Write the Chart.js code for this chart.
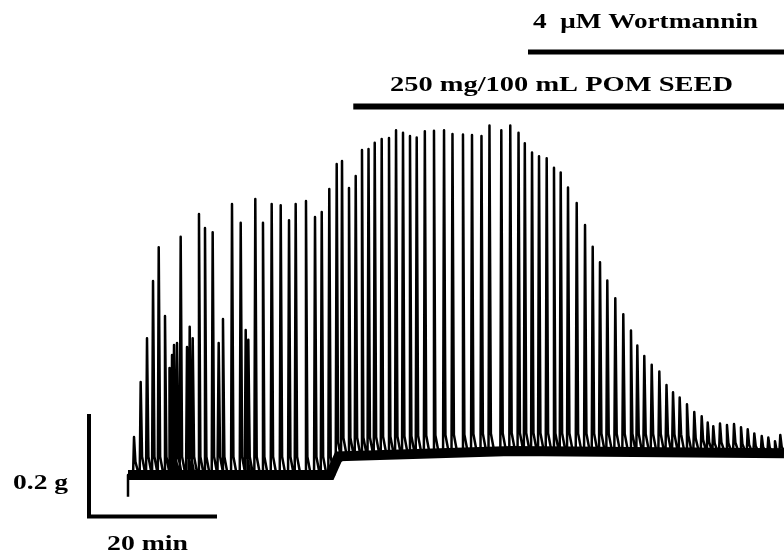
<!DOCTYPE html>
<html>
<head>
<meta charset="utf-8">
<script src="https://cdn.jsdelivr.net/npm/chart.js@4"></script>
<style>
  body { margin: 0; background: #fff; }
  canvas { display: block; }
</style>
</head>
<body>
<canvas id="trace" width="784" height="558"></canvas>
<script>
// contraction peaks: time (min from start of trace) and tension (g, relative to first baseline)
const peakMin = [0.94, 1.98, 2.97, 3.91, 4.80, 5.78, 6.56, 6.88, 7.19, 7.66,
  8.23, 9.22, 9.64, 10.11, 11.09, 12.03, 13.23, 14.17, 14.84, 16.25,
  17.61, 18.39, 18.80, 19.89, 21.09, 22.45, 23.86, 25.16, 26.20, 27.81,
  29.22, 30.27, 31.45, 32.61, 33.44, 34.53, 35.58, 36.56, 37.58, 38.55,
  39.64, 40.78, 41.88, 42.97, 44.06, 45.11, 46.38, 47.81, 49.38, 50.70,
  52.34, 53.75, 55.23, 56.48, 58.33, 59.73, 61.02, 62.00, 63.13, 64.22,
  65.42, 66.56, 67.61, 68.75, 70.11, 71.41, 72.61, 73.75, 74.89, 76.14,
  77.39, 78.59, 79.58, 80.67, 81.83, 83.02, 84.14, 85.16, 86.20, 87.34,
  88.48, 89.64, 90.58, 91.45, 92.50, 93.59, 94.69, 95.78, 96.83, 97.86,
  99.02, 100.05, 101.09, 101.92];
const peakG = [0.073, 0.179, 0.263, 0.373, 0.438, 0.306, 0.206, 0.231, 0.250, 0.254,
  0.458, 0.246, 0.285, 0.263, 0.502, 0.475, 0.467, 0.254, 0.300, 0.521,
  0.485, 0.279, 0.260, 0.531, 0.485, 0.521, 0.519, 0.490, 0.521, 0.527,
  0.496, 0.506, 0.550, 0.598, 0.604, 0.552, 0.575, 0.625, 0.627, 0.639,
  0.646, 0.648, 0.663, 0.658, 0.652, 0.649, 0.661, 0.662, 0.663, 0.656,
  0.655, 0.654, 0.652, 0.672, 0.663, 0.672, 0.658, 0.638, 0.620, 0.613,
  0.609, 0.591, 0.582, 0.553, 0.523, 0.481, 0.439, 0.409, 0.374, 0.340,
  0.309, 0.278, 0.249, 0.229, 0.212, 0.199, 0.173, 0.159, 0.149, 0.136,
  0.121, 0.113, 0.101, 0.094, 0.099, 0.096, 0.098, 0.092, 0.088, 0.080,
  0.075, 0.072, 0.065, 0.077];

// resting tension between contractions
const baseMin = [0, 31.6, 32.9, 60, 102.5];
const baseG = [0, 0, 0.036, 0.046, 0.042];
const onsetDipG = -0.042;

// treatments (start time in min)
const treatLabels = ["250 mg/100 mL POM SEED", "4  \u03bcM Wortmannin"];
const treatStart = [35.2, 62.5];

const scaleBarG = 0.2;
const scaleBarMin = 20;

function baseAt(t) {
  for (let i = 1; i < baseMin.length; i++) {
    if (t <= baseMin[i]) {
      const f = (t - baseMin[i - 1]) / (baseMin[i] - baseMin[i - 1]);
      return baseG[i - 1] + f * (baseG[i] - baseG[i - 1]);
    }
  }
  return baseG[baseG.length - 1];
}

// each contraction: fast rise, fast fall, then a short relaxation tail
const traceData = [{ x: 0, y: onsetDipG }, { x: 0, y: baseAt(0) }];
peakMin.forEach(function (t, i) {
  const b = baseAt(t);
  const tail = Math.min(0.035, 0.35 * (peakG[i] - b));
  traceData.push(
    { x: t - 0.15, y: b },
    { x: t, y: peakG[i] },
    { x: t + 0.22, y: b + tail },
    { x: t + 0.75, y: b }
  );
});
traceData.push({ x: 102.5, y: baseAt(102.5) });

const baseData = baseMin.map(function (t, i) { return { x: t, y: baseG[i] }; });

const FONT = 'bold 22px "Liberation Serif", "Times New Roman", serif';

// text is squeezed/stretched to the width it has in the figure
function label(ctx, text, left, right, baseline) {
  ctx.save();
  ctx.font = FONT;
  const w = ctx.measureText(text).width;
  ctx.translate(left, baseline);
  ctx.scale((right - left) / w, 1);
  ctx.textBaseline = "alphabetic";
  ctx.fillText(text, 0, 0);
  ctx.restore();
}

const decorations = {
  id: "decorations",
  afterDatasetsDraw(chart) {
    const ctx = chart.ctx;
    const x = chart.scales.x;
    const y = chart.scales.y;
    const right = chart.chartArea.right;
    ctx.save();
    ctx.fillStyle = "#000";

    // treatment bars
    const pomX = x.getPixelForValue(treatStart[0]);
    ctx.fillRect(pomX, 103.5, right - pomX, 6);
    label(ctx, treatLabels[0], 390, 733, 91);
    const wortX = x.getPixelForValue(treatStart[1]);
    ctx.fillRect(wortX, 49.5, right - wortX, 5);
    label(ctx, treatLabels[1], 533, 758, 28);

    // calibration bars
    const gLen = y.getPixelForValue(0) - y.getPixelForValue(scaleBarG);
    const minLen = x.getPixelForValue(scaleBarMin) - x.getPixelForValue(0);
    ctx.fillRect(87, 518 - gLen, 4, gLen);
    ctx.fillRect(87, 514.5, minLen + 2, 4);
    label(ctx, "0.2 g", 13, 68, 489);
    label(ctx, "20 min", 107, 188, 550);
    ctx.restore();
  }
};

new Chart(document.getElementById("trace").getContext("2d"), {
  type: "line",
  data: {
    datasets: [
      {
        data: baseData,
        borderColor: "#000",
        borderWidth: 10,
        borderCapStyle: "butt",
        pointRadius: 0
      },
      {
        data: traceData,
        borderColor: "#000",
        borderWidth: 2.5,
        borderJoinStyle: "round",
        pointRadius: 0
      }
    ]
  },
  options: {
    responsive: false,
    animation: false,
    events: [],
    layout: { padding: 0 },
    elements: { line: { tension: 0 } },
    plugins: {
      legend: { display: false },
      tooltip: { enabled: false }
    },
    scales: {
      x: { type: "linear", display: false, min: -20, max: 102.5 },
      y: { type: "linear", display: false, min: -0.1596, max: 0.9135 }
    }
  },
  plugins: [decorations]
});
</script>
</body>
</html>
